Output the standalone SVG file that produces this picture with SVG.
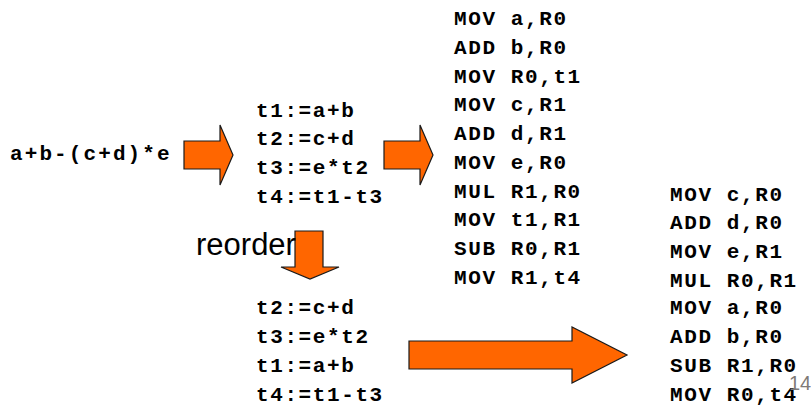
<svg xmlns="http://www.w3.org/2000/svg" width="811" height="406" viewBox="0 0 811 406">
  <style>
    .code { font-family: "Liberation Mono", "Courier New", monospace; font-weight: bold; font-size: 21px; letter-spacing: 1.6px; fill: #000; }
    .label { font-family: "Liberation Sans", Arial, sans-serif; font-size: 31px; fill: #000; }
    .pageno { font-family: "Liberation Sans", Arial, sans-serif; font-size: 20px; fill: #7f7a76; }
    .arrow { fill: #FF6600; stroke: #1a1a1a; stroke-width: 1.2; stroke-linejoin: miter; }
  </style>
  <rect width="811" height="406" fill="#fff"/>

  <!-- source expression -->
  <g id="expr">
    <text class="code" x="10" y="160" style="letter-spacing:2.1px">a+b-(c+d)*e</text>
  </g>

  <!-- three-address code, original order -->
  <g id="tac-original">
    <text class="code" x="256" y="116.5">t1:=a+b</text>
    <text class="code" x="256" y="145.2">t2:=c+d</text>
    <text class="code" x="256" y="173.9">t3:=e*t2</text>
    <text class="code" x="256" y="202.6">t4:=t1-t3</text>
  </g>

  <!-- generated code for the original order -->
  <g id="asm-original">
    <text class="code" x="454" y="25">MOV a,R0</text>
    <text class="code" x="454" y="53.75">ADD b,R0</text>
    <text class="code" x="454" y="82.5">MOV R0,t1</text>
    <text class="code" x="454" y="111.25">MOV c,R1</text>
    <text class="code" x="454" y="140">ADD d,R1</text>
    <text class="code" x="454" y="168.75">MOV e,R0</text>
    <text class="code" x="454" y="197.5">MUL R1,R0</text>
    <text class="code" x="454" y="226.25">MOV t1,R1</text>
    <text class="code" x="454" y="255">SUB R0,R1</text>
    <text class="code" x="454" y="283.75">MOV R1,t4</text>
  </g>

  <!-- three-address code, reordered -->
  <g id="tac-reordered">
    <text class="code" x="256" y="314.4">t2:=c+d</text>
    <text class="code" x="256" y="343.2">t3:=e*t2</text>
    <text class="code" x="256" y="372">t1:=a+b</text>
    <text class="code" x="256" y="400.6">t4:=t1-t3</text>
  </g>

  <!-- generated code for the reordered sequence -->
  <g id="asm-reordered">
    <text class="code" x="670" y="200.6">MOV c,R0</text>
    <text class="code" x="670" y="229.4">ADD d,R0</text>
    <text class="code" x="670" y="258">MOV e,R1</text>
    <text class="code" x="670" y="286.8">MUL R0,R1</text>
    <text class="code" x="670" y="314.4">MOV a,R0</text>
    <text class="code" x="670" y="343.2">ADD b,R0</text>
    <text class="code" x="670" y="372">SUB R1,R0</text>
    <text class="code" x="670" y="400.6">MOV R0,t4</text>
  </g>

  <!-- block arrows between stages -->
  <g id="connectors">
    <polygon class="arrow" points="184,141 220,141 220,125 233,155 220,185 220,169 184,169"/>
    <polygon class="arrow" points="384,141 420,141 420,125 433,155 420,185 420,169 384,169"/>
    <polygon class="arrow" points="295,231 323,231 323,267 339,267 310,279 281,267 295,267"/>
    <polygon class="arrow" points="409,341 572,341 572,327 627,355 572,383 572,369 409,369"/>
    <text class="label" x="196" y="255">reorder</text>
  </g>

  <g id="page-number">
    <text class="pageno" x="789" y="390">14</text>
  </g>
</svg>
